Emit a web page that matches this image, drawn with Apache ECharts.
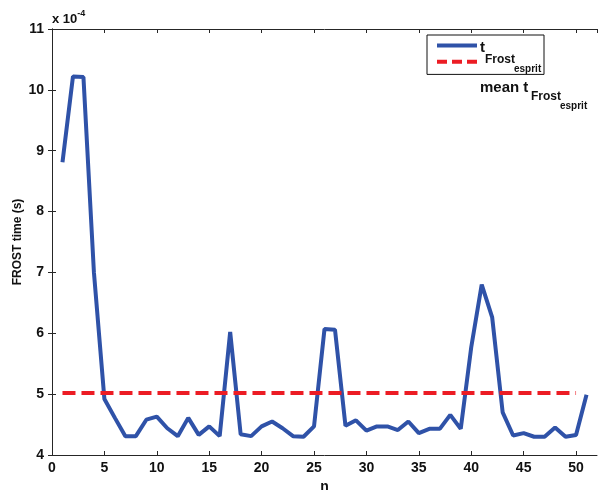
<!DOCTYPE html>
<html><head><meta charset="utf-8">
<script src="https://cdn.jsdelivr.net/npm/echarts@6/dist/echarts.min.js"></script>
<style>html,body{margin:0;padding:0;background:#fff}#c{width:598px;height:490px}</style>
</head><body><div id="c"></div>
<script>
const nValues = [1,2,3,4,5,6,7,8,9,10,11,12,13,14,15,16,17,18,19,20,21,22,23,24,25,26,27,28,29,30,31,32,33,34,35,36,37,38,39,40,41,42,43,44,45,46,47,48,49,50,51];
const frostTime = [8.81,10.22,10.21,7.0,4.92,4.61,4.31,4.31,4.58,4.63,4.44,4.31,4.61,4.33,4.47,4.31,6.02,4.34,4.31,4.47,4.55,4.44,4.31,4.30,4.47,6.07,6.06,4.48,4.57,4.40,4.47,4.47,4.41,4.55,4.36,4.43,4.43,4.66,4.43,5.77,6.80,6.26,4.70,4.32,4.36,4.30,4.30,4.45,4.30,4.33,4.99];
const meanX = [1,50];
const meanValue = 5.02;
const xTicks = [0,5,10,15,20,25,30,35,40,45,50];
const yTicks = [4,5,6,7,8,9,10,11];
const legendMain = ['t','mean t'];
const legendSub = 'Frost';
const legendSubSub = 'esprit';

const chart = echarts.init(document.getElementById('c'));
const FONT = 'Liberation Sans';
const axisCol = '#262626';
const BLUE = '#2f52a8', RED = '#ec1c24';
const base = {
  axisLine:{show:true,lineStyle:{color:axisCol,width:1}},
  axisTick:{show:true,inside:true,length:4,lineStyle:{color:axisCol}},
  splitLine:{show:false}
};
function txt(x, top, s, fs){
  return {type:'text',x:x,y:top,z:100,silent:true,
    style:{text:s,fontSize:fs,fontWeight:'bold',fontFamily:FONT,fill:'#111',verticalAlign:'top'}};
}
// legend label pieces (main, subscript, sub-subscript) for each entry
const legendText = [
  txt(480,40.5,legendMain[0],15), txt(485,54,legendSub,12), txt(514,64,legendSubSub,10),
  txt(480,80.5,legendMain[1],15), txt(531,91,legendSub,12), txt(560,101,legendSubSub,10)
];
chart.setOption({
  animation:false,
  grid:{left:52,right:1,top:29,bottom:35,outerBoundsMode:'none'},
  xAxis:[
    Object.assign({type:'value',min:0,max:52,interval:5,position:'bottom',
      name:'n',nameLocation:'middle',nameGap:24,
      nameTextStyle:{fontFamily:FONT,fontWeight:'bold',fontSize:14,color:'#111'},
      axisLabel:{showMaxLabel:false,fontFamily:FONT,fontWeight:'bold',fontSize:14,color:'#111',margin:6}},base),
    Object.assign({type:'value',min:0,max:52,interval:5,position:'top',axisLabel:{show:false}},base)
  ],
  yAxis:[
    Object.assign({type:'value',min:4,max:11,interval:1,position:'left',
      name:'FROST time (s)',nameLocation:'middle',nameGap:28,nameMoveOverlap:false,
      nameTextStyle:{fontFamily:FONT,fontWeight:'bold',fontSize:12,color:'#111'},
      axisLabel:{fontFamily:FONT,fontWeight:'bold',fontSize:14,color:'#111',margin:8}},base),
    Object.assign({type:'value',min:4,max:11,interval:1,position:'right',axisLabel:{show:false}},base)
  ],
  legend:{
    orient:'vertical',left:427,top:35,
    padding:[5,7,7,8],itemGap:5,itemWidth:40,itemHeight:14,
    borderColor:'#111',borderWidth:1,backgroundColor:'#fff',
    itemStyle:{opacity:0},
    data:[
      {name:'a',lineStyle:{color:BLUE,width:4,type:'solid'}},
      {name:'b',lineStyle:{color:RED,width:4,type:[10,5]}}
    ],
    formatter:function(){return 'x';},
    textStyle:{color:'rgba(0,0,0,0)',fontSize:10,fontFamily:FONT,padding:[9,51,9,50]}
  },
  graphic:[{type:'text',left:52,top:9,style:{
    text:'{a|x 10}{b|-4}',
    rich:{a:{fontSize:13,fontWeight:'bold',fontFamily:FONT,fill:'#111',padding:[6,0,0,0]},
          b:{fontSize:9,fontWeight:'bold',fontFamily:FONT,fill:'#111',padding:[0,0,6,0]}}}}].concat(legendText),
  series:[
    {name:'a',type:'line',data:nValues.map((n,i)=>[n,frostTime[i]]),symbol:'none',
     lineStyle:{color:BLUE,width:4},itemStyle:{color:BLUE}},
    {name:'b',type:'line',data:meanX.map(x=>[x,meanValue]),symbol:'none',
     lineStyle:{color:RED,width:4,type:[13,6]},itemStyle:{color:RED}}
  ]
});
</script></body></html>
